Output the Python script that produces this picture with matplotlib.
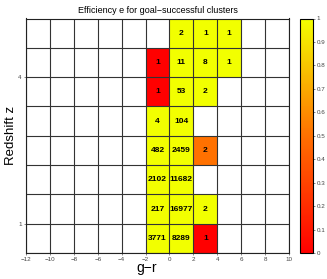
import numpy as np
import matplotlib.pyplot as plt
from matplotlib.colors import LinearSegmentedColormap

plt.rcParams['font.family'] = ['Liberation Sans', 'DejaVu Sans']

# bin edges
x_edges = [-12, -10, -8, -6, -4, -2, 0, 2, 4, 6, 8, 10]
y_edges = [0.4, 1.0, 1.6, 2.2, 2.8, 3.4, 4.0, 4.6, 5.2]
y_ticks = [1, 4]

# cells: x bin lower edge, z row index from bottom, count, efficiency
cell_x = [-2, 0, 2, -2, 0, 2, -2, 0, -2, 0, 2, -2, 0, -2, 0, 2, -2, 0, 2, 4, 0, 2, 4]
cell_row = [0, 0, 0, 1, 1, 1, 2, 2, 3, 3, 3, 4, 4, 5, 5, 5, 6, 6, 6, 6, 7, 7, 7]
cell_count = [3771, 8289, 1, 217, 16977, 2, 2102, 11682, 482, 2459, 2, 4, 104,
              1, 53, 2, 1, 11, 8, 1, 2, 1, 1]
cell_eff = [1, 1, 0, 1, 1, 1, 1, 1, 1, 1, 0.5, 1, 1,
            0, 1, 1, 0, 1, 1, 1, 1, 1, 1]

cmap = LinearSegmentedColormap.from_list('ry', ['#ff0000', '#ff7000', '#f2ff00'])

nx = len(x_edges) - 1
ny = len(y_edges) - 1
grid = np.full((ny, nx), np.nan)
for xv, r, e in zip(cell_x, cell_row, cell_eff):
    grid[r, x_edges.index(xv)] = e

fig = plt.figure(figsize=(3.27, 2.79), dpi=100)
ax = fig.add_axes([26 / 327, 26 / 279, 263 / 327, 234.5 / 279])
cax = fig.add_axes([300 / 327, 26 / 279, 13 / 327, 234.5 / 279])

mesh = ax.pcolormesh(x_edges, y_edges, np.ma.masked_invalid(grid), cmap=cmap,
                     vmin=0, vmax=1, edgecolor='#777777', linewidth=0.5)

for xv in x_edges:
    ax.axvline(xv, color='#333333', lw=0.8, zorder=1)
for yv in y_edges:
    ax.axhline(yv, color='#333333', lw=0.8, zorder=1)

for xv, r, c in zip(cell_x, cell_row, cell_count):
    ax.text(xv + 1, (y_edges[r] + y_edges[r + 1]) / 2, str(c), ha='center',
            va='center', fontsize=6, fontweight='bold', color='black', zorder=3)

ax.set_xlim(-12, 10)
ax.set_ylim(0.4, 5.2)
ax.set_xticks(x_edges)
ax.set_xticklabels([str(v).replace('-', '\u2212') for v in x_edges])
ax.set_yticks(y_ticks)
ax.tick_params(labelsize=4.5, length=1.5, width=0.5, pad=1.5,
               colors='#555555', labelcolor='#444444')
for s in ax.spines.values():
    s.set_color('#222222')
    s.set_linewidth(0.8)

ax.set_title('Efficiency e for goal\u2212successful clusters', fontsize=6.5, pad=4)
ax.set_xlabel('g\u2212r', fontsize=10)
ax.xaxis.set_label_coords(0.46, -0.036)
ax.set_ylabel('Redshift z', fontsize=9.5)
ax.yaxis.set_label_coords(-0.034, 0.5)

cb = fig.colorbar(mesh, cax=cax, ticks=np.arange(0, 1.01, 0.1))
cb.ax.set_yticklabels(['0', '0.1', '0.2', '0.3', '0.4', '0.5', '0.6', '0.7', '0.8', '0.9', '1'])
cb.ax.tick_params(labelsize=4.5, length=1.5, width=0.5, pad=1,
                  colors='#555555', labelcolor='#444444')
cb.outline.set_linewidth(0.8)

fig.savefig('out.png', dpi=100)
